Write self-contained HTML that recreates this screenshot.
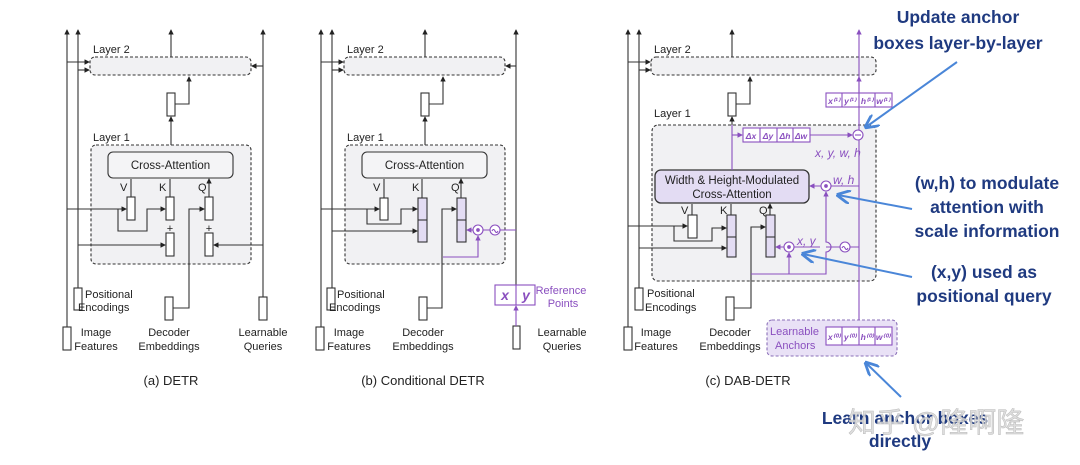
<!DOCTYPE html>
<html><head><meta charset="utf-8"><style>
html,body{margin:0;padding:0;background:#fff;}
svg{display:block;}
text{font-family:"Liberation Sans",sans-serif;}
</style></head><body>
<svg width="1080" height="465" viewBox="0 0 1080 465" xmlns="http://www.w3.org/2000/svg">
<defs>
<marker id="a" viewBox="0 0 6 6" refX="5" refY="3" markerWidth="5" markerHeight="5" orient="auto"><path d="M0,0L6,3L0,6z" fill="#222"/></marker>
<marker id="p" viewBox="0 0 6 6" refX="5" refY="3" markerWidth="5" markerHeight="5" orient="auto"><path d="M0,0L6,3L0,6z" fill="#8a4fbf"/></marker>
<marker id="b" viewBox="0 0 8 8" refX="7" refY="4" markerWidth="7" markerHeight="7" orient="auto"><path d="M0,0L8,4L0,8" fill="none" stroke="#4a86d8" stroke-width="1.6"/></marker>
</defs>

<!-- ============ PANEL A ============ -->
<g fill="none" stroke="#333" stroke-width="1.1">
<rect x="90" y="57" width="161" height="18" rx="5" fill="#f1f1f3" stroke-dasharray="3,2"/>
<rect x="91" y="145" width="160" height="119" rx="5" fill="#f1f1f3" stroke-dasharray="3,2"/>
<rect x="108" y="152" width="125" height="26" rx="5" fill="#f4f4f6"/>
<path d="M67,327V30" marker-end="url(#a)"/>
<path d="M78,288V30" marker-end="url(#a)"/>
<path d="M67,62H89" marker-end="url(#a)"/>
<path d="M78,70H89" marker-end="url(#a)"/>
<path d="M171,57V30" marker-end="url(#a)"/>
<path d="M263,297V30" marker-end="url(#a)"/>
<path d="M263,66H252" marker-end="url(#a)"/>
<path d="M171,145V117" marker-end="url(#a)"/>
<path d="M175,104H189V77" marker-end="url(#a)"/>
<path d="M67,209H126" marker-end="url(#a)"/>
<path d="M118,209V231H147V209H165" marker-end="url(#a)"/>
<path d="M78,245H165" marker-end="url(#a)"/>
<path d="M263,245H214" marker-end="url(#a)"/>
<path d="M173,308H189V209H204" marker-end="url(#a)"/>
<path d="M131,197V179M170,197V179M209,197V179" marker-end="url(#a)"/>
<rect x="63" y="327" width="8" height="23" fill="#fff"/>
<rect x="74" y="288" width="8" height="22" fill="#fff"/>
<rect x="259" y="297" width="8" height="23" fill="#fff"/>
<rect x="167" y="93" width="8" height="23" fill="#fff"/>
<rect x="127" y="197" width="8" height="23" fill="#fff"/>
<rect x="166" y="197" width="8" height="23" fill="#fff"/>
<rect x="205" y="197" width="8" height="23" fill="#fff"/>
<rect x="166" y="233" width="8" height="23" fill="#fff"/>
<rect x="205" y="233" width="8" height="23" fill="#fff"/>
<rect x="165" y="297" width="8" height="23" fill="#fff"/>
</g>
<g font-size="11" fill="#222">
<text x="93" y="53">Layer 2</text>
<text x="93" y="141">Layer 1</text>
<text x="170.5" y="169" text-anchor="middle" font-size="11.5">Cross-Attention</text>
<text x="120" y="191">V</text><text x="159" y="191">K</text><text x="198" y="191">Q</text>
<text x="170" y="232" text-anchor="middle">+</text><text x="209" y="232" text-anchor="middle">+</text>
<text x="85" y="298">Positional</text><text x="78" y="311">Encodings</text>
<text x="96" y="336" text-anchor="middle">Image</text><text x="96" y="350" text-anchor="middle">Features</text>
<text x="169" y="336" text-anchor="middle">Decoder</text><text x="169" y="350" text-anchor="middle">Embeddings</text>
<text x="263" y="336" text-anchor="middle">Learnable</text><text x="263" y="350" text-anchor="middle">Queries</text>
<text x="171" y="385" text-anchor="middle" font-size="13">(a) DETR</text>
</g>

<!-- ============ PANEL B ============ -->
<g transform="translate(254,0)">
<g fill="none" stroke="#333" stroke-width="1.1">
<rect x="90" y="57" width="161" height="18" rx="5" fill="#f1f1f3" stroke-dasharray="3,2"/>
<rect x="91" y="145" width="160" height="119" rx="5" fill="#f1f1f3" stroke-dasharray="3,2"/>
<rect x="108" y="152" width="125" height="26" rx="5" fill="#f4f4f6"/>
<path d="M67,327V30" marker-end="url(#a)"/>
<path d="M78,288V30" marker-end="url(#a)"/>
<path d="M67,62H89" marker-end="url(#a)"/>
<path d="M78,70H89" marker-end="url(#a)"/>
<path d="M171,57V30" marker-end="url(#a)"/>
<path d="M262,285V30" marker-end="url(#a)"/>
<path d="M262,66H252" marker-end="url(#a)"/>
<path d="M171,145V117" marker-end="url(#a)"/>
<path d="M175,104H189V77" marker-end="url(#a)"/>
<path d="M67,209H125" marker-end="url(#a)"/>
<path d="M113,209V224H147V209H163" marker-end="url(#a)"/>
<path d="M78,231H163" marker-end="url(#a)"/>
<path d="M173,308H188V209H202" marker-end="url(#a)"/>
<path d="M130,198V179M168,198V179M207,198V179" marker-end="url(#a)"/>
<rect x="62" y="327" width="8" height="23" fill="#fff"/>
<rect x="73" y="288" width="8" height="22" fill="#fff"/>
<rect x="259" y="326" width="7" height="23" fill="#fff"/>
<rect x="167" y="93" width="8" height="23" fill="#fff"/>
<rect x="126" y="198" width="8" height="22" fill="#fff"/>
<rect x="164" y="198" width="9" height="44" fill="#e3dcf3"/><path d="M164,220H173"/>
<rect x="203" y="198" width="9" height="44" fill="#e3dcf3"/><path d="M203,220H212"/>
<rect x="165" y="297" width="8" height="23" fill="#fff"/>
</g>
<g fill="none" stroke="#8a4fbf" stroke-width="1.1">
<path d="M262,230H246M236,230H229M219,230H213" marker-end="url(#p)"/>
<path d="M189,257H224V236" marker-end="url(#p)"/>
<circle cx="241" cy="230" r="5" fill="#fff"/><path d="M238,231q1.5,-3 3,0t3,0"/>
<circle cx="224" cy="230" r="5" fill="#fff"/><circle cx="224" cy="230" r="1.3" fill="#8a4fbf"/>
<path d="M262,326V306" marker-end="url(#p)"/>
<rect x="241" y="285" width="40" height="20" fill="#fff"/><path d="M262,285V305"/>
</g>
<g font-size="11" fill="#222">
<text x="93" y="53">Layer 2</text>
<text x="93" y="141">Layer 1</text>
<text x="170.5" y="169" text-anchor="middle" font-size="11.5">Cross-Attention</text>
<text x="119" y="191">V</text><text x="158" y="191">K</text><text x="197" y="191">Q</text>
<text x="83" y="298">Positional</text><text x="75" y="311">Encodings</text>
<text x="95" y="336" text-anchor="middle">Image</text><text x="95" y="350" text-anchor="middle">Features</text>
<text x="169" y="336" text-anchor="middle">Decoder</text><text x="169" y="350" text-anchor="middle">Embeddings</text>
<text x="308" y="336" text-anchor="middle">Learnable</text><text x="308" y="350" text-anchor="middle">Queries</text>
<text x="169" y="385" text-anchor="middle" font-size="13">(b) Conditional DETR</text>
</g>
<g fill="#8a4fbf" font-style="italic" font-weight="bold" font-size="14">
<text x="251" y="300" text-anchor="middle" font-family="Liberation Serif">x</text>
<text x="272" y="300" text-anchor="middle" font-family="Liberation Serif">y</text>
</g>
<g fill="#8a4fbf" font-size="11"><text x="307" y="294" text-anchor="middle">Reference</text><text x="309" y="307" text-anchor="middle">Points</text></g>
</g>

<!-- ============ PANEL C ============ -->
<g fill="none" stroke="#333" stroke-width="1.1">
<rect x="651" y="57" width="225" height="18" rx="5" fill="#f1f1f3" stroke-dasharray="3,2"/>
<rect x="652" y="125" width="224" height="156" rx="6" fill="#f1f1f3" stroke-dasharray="3,2"/>
<rect x="767" y="320" width="130" height="36" rx="5" fill="#e9e1f6" stroke="#8a6fb8" stroke-dasharray="3,2"/>
<path d="M628,327V30" marker-end="url(#a)"/>
<path d="M639,288V30" marker-end="url(#a)"/>
<path d="M628,62H650" marker-end="url(#a)"/>
<path d="M639,70H650" marker-end="url(#a)"/>
<path d="M732,57V30" marker-end="url(#a)"/>
<path d="M732,125V117" marker-end="url(#a)"/>
<path d="M736,104H750V77" marker-end="url(#a)"/>
<path d="M628,226H687" marker-end="url(#a)"/>
<path d="M674,226V241H712V228H726" marker-end="url(#a)"/>
<path d="M639,248H726" marker-end="url(#a)"/>
<path d="M734,308H751V227H765" marker-end="url(#a)"/>
<path d="M692,215V204M731,215V204M770,215V204" marker-end="url(#a)"/>
<rect x="624" y="327" width="8" height="23" fill="#fff"/>
<rect x="635" y="288" width="8" height="22" fill="#fff"/>
<rect x="728" y="93" width="8" height="23" fill="#fff"/>
<rect x="688" y="215" width="9" height="23" fill="#fff"/>
<rect x="727" y="215" width="9" height="42" fill="#e3dcf3"/><path d="M727,237H736"/>
<rect x="766" y="215" width="9" height="42" fill="#e3dcf3"/><path d="M766,237H775"/>
<rect x="726" y="297" width="8" height="23" fill="#fff"/>
<rect x="655" y="170" width="154" height="33" rx="6" fill="#e3dcf3" stroke-width="1.3"/>
</g>
<g fill="none" stroke="#8a4fbf" stroke-width="1.1">
<path d="M859,320V30" marker-end="url(#p)"/>
<path d="M859,107V77" marker-end="url(#p)"/>
<path d="M732,170V125"/>
<path d="M732,135H742" marker-end="url(#p)"/>
<path d="M810,135H852" marker-end="url(#p)"/>
<path d="M859,186H831M821,186H810" marker-end="url(#p)"/>
<path d="M859,247H850M840,247H826M820,247H794M784,247H776" marker-end="url(#p)"/>
<path d="M751,274H826V252a5,5 0 0 0 0,-10V192" marker-end="url(#p)"/>
<path d="M789,274V253" marker-end="url(#p)"/>
<circle cx="858" cy="135" r="5" fill="#fff"/><path d="M855,135H861"/>
<circle cx="826" cy="186" r="5" fill="#fff"/><circle cx="826" cy="186" r="1.3" fill="#8a4fbf"/>
<circle cx="789" cy="247" r="5" fill="#fff"/><circle cx="789" cy="247" r="1.3" fill="#8a4fbf"/>
<circle cx="845" cy="247" r="5" fill="#fff"/><path d="M842,248q1.5,-3 3,0t3,0"/>
<rect x="743" y="128" width="67" height="14" fill="#fff"/><path d="M760,128V142M777,128V142M793,128V142"/>
<rect x="826" y="93" width="66" height="14" fill="#fff"/><path d="M842,93V107M859,93V107M875,93V107"/>
<rect x="826" y="327" width="66" height="18" fill="#fff"/><path d="M842,327V345M859,327V345M875,327V345"/>
</g>
<g font-family="Liberation Serif" font-style="italic" font-weight="bold" fill="#8a4fbf" font-size="8.5">
<text x="751" y="139" text-anchor="middle">Δx</text><text x="768" y="139" text-anchor="middle">Δy</text><text x="785" y="139" text-anchor="middle">Δh</text><text x="801" y="139" text-anchor="middle">Δw</text>
<text x="834" y="104" text-anchor="middle">x⁽¹⁾</text><text x="850" y="104" text-anchor="middle">y⁽¹⁾</text><text x="867" y="104" text-anchor="middle">h⁽¹⁾</text><text x="883" y="104" text-anchor="middle">w⁽¹⁾</text>
<text x="834" y="340" text-anchor="middle">x⁽⁰⁾</text><text x="850" y="340" text-anchor="middle">y⁽⁰⁾</text><text x="867" y="340" text-anchor="middle">h⁽⁰⁾</text><text x="883" y="340" text-anchor="middle">w⁽⁰⁾</text>
</g>
<g font-family="Liberation Serif" font-style="italic" fill="#8a4fbf" font-size="12">
<text x="815" y="157">x, y, w, h</text>
<text x="833" y="184">w, h</text>
<text x="797" y="245">x, y</text>
</g>
<g font-size="11" fill="#222">
<text x="654" y="53">Layer 2</text>
<text x="654" y="117">Layer 1</text>
<text x="732" y="184" text-anchor="middle" font-size="11.5">Width &amp; Height-Modulated</text>
<text x="732" y="198" text-anchor="middle" font-size="11.5">Cross-Attention</text>
<text x="681" y="214">V</text><text x="720" y="214">K</text><text x="759" y="214">Q</text>
<text x="647" y="297">Positional</text><text x="645" y="311">Encodings</text>
<text x="656" y="336" text-anchor="middle">Image</text><text x="656" y="350" text-anchor="middle">Features</text>
<text x="730" y="336" text-anchor="middle">Decoder</text><text x="730" y="350" text-anchor="middle">Embeddings</text>
<text x="748" y="385" text-anchor="middle" font-size="13">(c) DAB-DETR</text>
</g>
<g font-size="11" fill="#8a4fbf"><text x="770" y="335">Learnable</text><text x="775" y="349">Anchors</text></g>

<!-- annotations -->
<g stroke="#4a86d8" stroke-width="2" fill="none">
<path d="M957,62L866,127" marker-end="url(#b)"/>
<path d="M912,209L838,195" marker-end="url(#b)"/>
<path d="M912,277L803,254" marker-end="url(#b)"/>
<path d="M901,397L866,363" marker-end="url(#b)"/>
</g>
<g font-weight="bold" font-size="17.5" fill="#1f3a80" text-anchor="middle">
<text x="958" y="23">Update anchor</text>
<text x="958" y="49">boxes layer-by-layer</text>
<text x="987" y="189">(w,h) to modulate</text>
<text x="987" y="213">attention with</text>
<text x="987" y="237">scale information</text>
<text x="984" y="278">(x,y) used as</text>
<text x="984" y="302">positional query</text>
<text x="905" y="424">Learn anchor boxes</text>
<text x="900" y="447">directly</text>
</g>
<text x="848" y="432" font-family="'Noto Sans CJK SC',sans-serif" font-size="28" fill="#d8d8d8" fill-opacity="0.85" stroke="#bbb" stroke-width="0.5">知乎 @隆啊隆</text>
</svg>
</body></html>
